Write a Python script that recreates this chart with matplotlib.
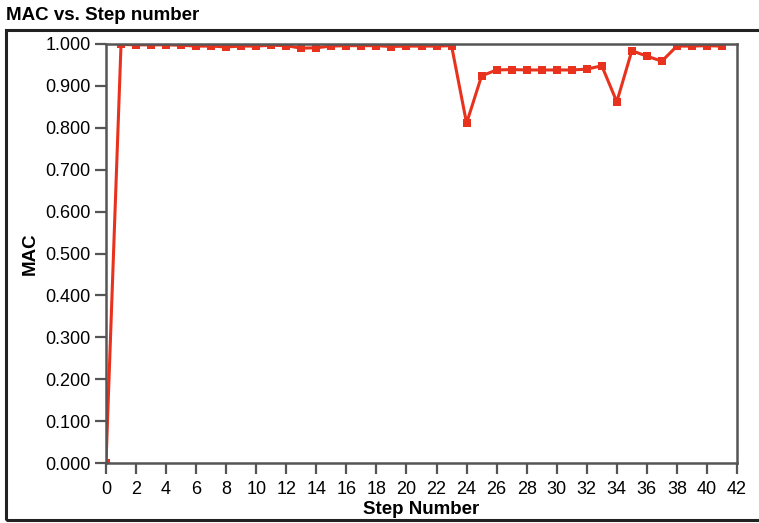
import matplotlib
matplotlib.use("Agg")
import matplotlib.pyplot as plt
from matplotlib.patches import Rectangle

plt.rcParams['font.family'] = ['Liberation Sans', 'DejaVu Sans']

# data
steps = list(range(0, 42))
mac = [0.000, 0.999, 0.998, 0.998, 0.998, 0.997, 0.995, 0.995, 0.993, 0.995,
       0.995, 0.997, 0.996, 0.990, 0.991, 0.995, 0.996, 0.996, 0.996, 0.994,
       0.995, 0.995, 0.995, 0.996, 0.811, 0.924, 0.938, 0.939, 0.938, 0.938,
       0.938, 0.938, 0.940, 0.948, 0.862, 0.984, 0.971, 0.959, 0.995, 0.995,
       0.996, 0.995]
x_ticks = list(range(0, 43, 2))
y_ticks = [i / 10 for i in range(0, 11)]

fig = plt.figure(figsize=(7.59, 5.23), dpi=100)
ax = fig.add_axes([106 / 759, 1 - 463 / 523, (737 - 106) / 759, (463 - 44) / 523])

# outer frame around the plot panel (right edge runs off the image)
fig.patches.append(Rectangle((6 / 759, 3 / 523), 1.0, (520 - 30) / 523,
                             transform=fig.transFigure, fill=False,
                             edgecolor='#222222', linewidth=2.2))
fig.text(6 / 759, 1 - 16 / 523, "MAC vs. Step number", fontsize=13.5,
         fontweight='bold', va='center', ha='left')

ax.plot(steps, mac, color='#e8321e', linewidth=2.2, marker='s', markersize=6,
        markeredgewidth=0)

ax.set_xlim(0, 42)
ax.set_ylim(0, 1.0)
ax.set_xticks(x_ticks)
ax.set_yticks(y_ticks)
ax.set_yticklabels([f"{v:.3f}" for v in y_ticks])
ax.tick_params(direction='out', length=8, width=1.6, color='#555555',
               labelsize=13, pad=3)
ax.tick_params(axis='x', pad=5)
for s in ax.spines.values():
    s.set_color('#555555')
    s.set_linewidth(1.8)
ax.set_xlabel("Step Number", fontsize=13.5, fontweight='bold', labelpad=2)
ax.set_ylabel("MAC", fontsize=13.5, fontweight='bold', labelpad=5)

fig.savefig("out.png", dpi=100)
